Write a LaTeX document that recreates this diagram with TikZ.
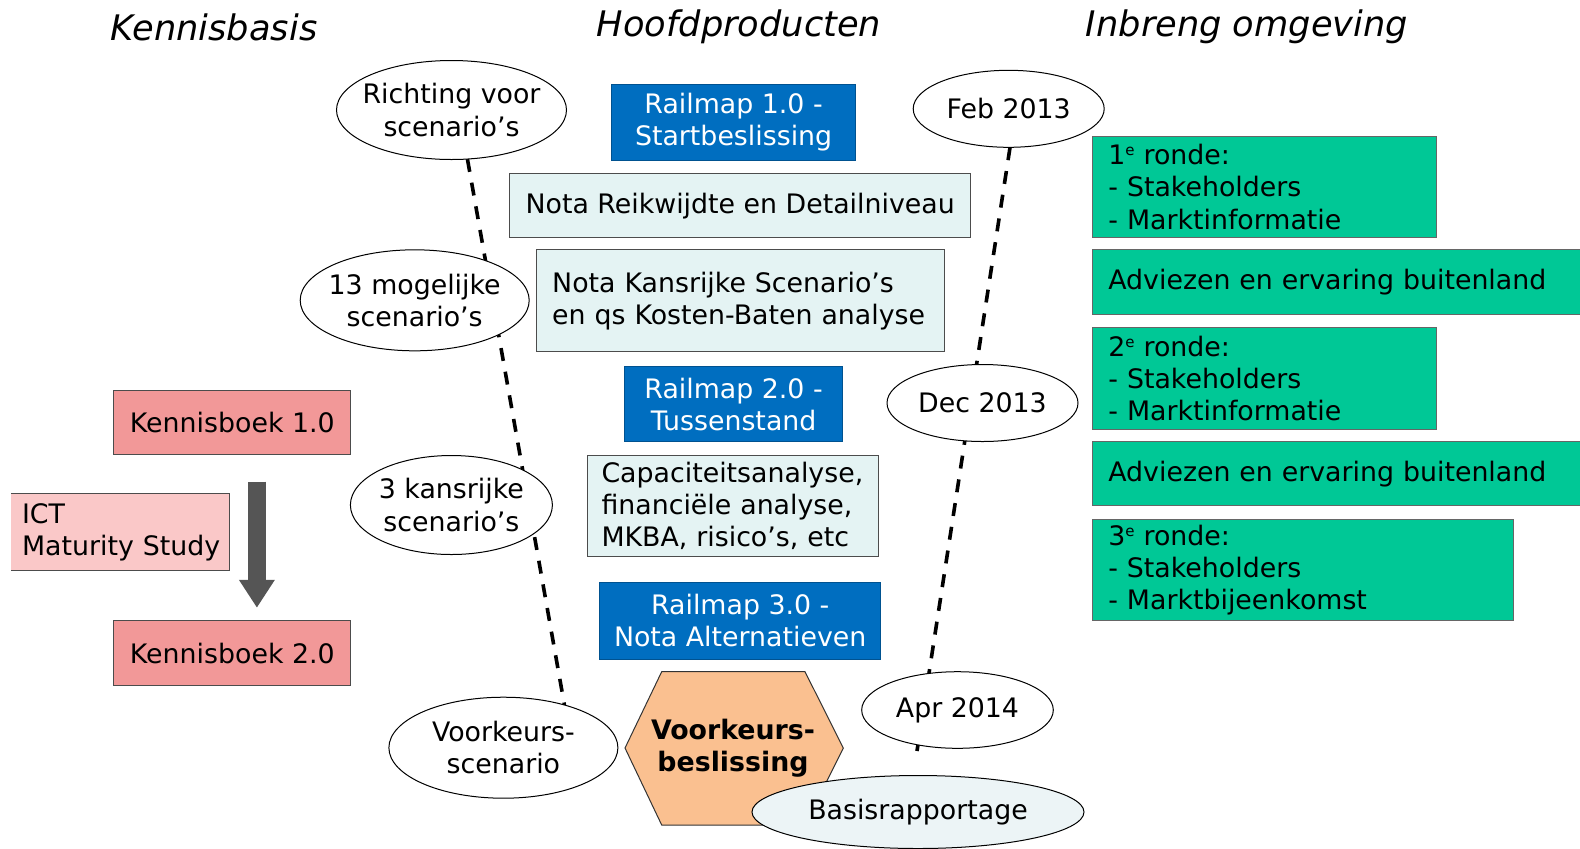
\documentclass[tikz,border=0pt]{standalone}
\usepackage{fontspec}
\setmainfont{DejaVu Sans}[ItalicFont={DejaVu Sans Oblique},BoldFont={DejaVu Sans Bold}]
\usepackage{tikz}
\usetikzlibrary{arrows.meta,shapes.geometric,backgrounds}
\definecolor{railblue}{RGB}{0,110,192}
\definecolor{notacyan}{RGB}{228,243,243}
\definecolor{kbpink}{RGB}{242,152,152}
\definecolor{ictpink}{RGB}{250,200,200}
\definecolor{inbrgreen}{RGB}{0,200,150}
\definecolor{hexorange}{RGB}{250,192,144}
\definecolor{basisfill}{RGB}{236,244,246}
\definecolor{arrowgray}{RGB}{85,85,85}
\newcommand{\rnd}{\raisebox{4.5pt}{\fontsize{7.5}{8}\selectfont e}}% small raised e
\tikzset{
  titel/.style={font=\fontsize{17.6}{21}\selectfont\itshape},       % column heads
  ell/.style={ellipse,draw=black,fill=white,line width=0.5pt,inner xsep=-8pt,inner ysep=-4pt,outer sep=0pt,align=center},
  blok/.style={rectangle,inner sep=0pt,outer sep=0pt,line width=0.5pt},
  rail/.style={blok,fill=railblue,draw=railblue!75!black,text=white,align=center},
  nota/.style={blok,fill=notacyan,draw=black!70},
  kennis/.style={blok,fill=kbpink,draw=black!70},
  ict/.style={blok,fill=ictpink,inner xsep=5.5pt,align=left},
  groen/.style={blok,fill=inbrgreen,draw=black!60,inner xsep=8pt,align=left},
  hexa/.style={draw=black!80,fill=hexorange,line width=0.5pt},
  pijl/.style={draw=arrowgray,line width=9pt,-{Triangle[width=17pt,length=14pt]}},
  tijdlijn/.style={black,line width=1.8pt,dash pattern=on 6.5pt off 5.5pt},
}
\begin{document}
\begin{tikzpicture}[x=0.5pt,y=-0.5pt,every node/.style={font=\fontsize{13.4}{16.1}\selectfont}]
  \useasboundingbox (0,0) rectangle (1580,848);
  % column heads
  \node[titel] (tkennis) at (214,27) {Kennisbasis};
  \node[titel] (thoofd) at (739,27) {Hoofdproducten};
  \node[titel] (tinbreng) at (1247,27) {Inbreng omgeving};

  % kennisbasis
  \node[kennis,minimum width=118.4pt,minimum height=31.75pt] (kb1) at (232.3,422.7) {Kennisboek 1.0};
  \node[kennis,minimum width=118.4pt,minimum height=32.25pt] (kb2) at (232.3,653) {Kennisboek 2.0};
  \node[ict,text width=98.4pt,minimum height=38.3pt] (ict) at (120.4,532.1) {ICT\\Maturity~Study};
  \draw[black!70,line width=0.5pt] (ict.north west) -- (ict.north east) -- (ict.south east) -- (ict.south west);
  \draw[pijl] ([xshift=12.3pt,yshift=-13.6pt]kb1.south) -- ([xshift=12.3pt,yshift=6.5pt]kb2.north);

  % hoofdproducten
  \node[rail,minimum width=121.9pt,minimum height=37.8pt] (rm1) at (733.6,122.4) {Railmap 1.0 -\\Startbeslissing};
  \node[nota,minimum width=230.25pt,minimum height=32.25pt] (nrd) at (740.2,205.6) {Nota Reikwijdte en Detailniveau};
  \node[nota,text width=188pt,inner xsep=8pt,minimum height=50.9pt,align=left] (nks) at (740.2,300.8) {Nota Kansrijke Scenario’s\\en qs Kosten-Baten analyse};
  \node[rail,minimum width=108.8pt,minimum height=37.3pt] (rm2) at (733.6,404.1) {Railmap 2.0 -\\Tussenstand};
  \node[nota,text width=131.6pt,inner xsep=7pt,minimum height=50.4pt,align=left] (cap) at (733.1,505.9) {Capaciteitsanalyse,\\financiële analyse,\\MKBA, risico’s, etc};
  \node[rail,minimum width=140.5pt,minimum height=38.3pt] (rm3) at (740.2,620.7) {Railmap 3.0 -\\Nota Alternatieven};
  \draw[hexa] (625,748) -- (661.7,671.7) -- (805,671.7) -- (843.3,748) -- (805,825) -- (661.7,825) -- cycle;
  \node[font=\fontsize{13.4}{16.1}\selectfont\bfseries,align=center] (vbesl) at (733,748.3) {Voorkeurs-\\beslissing};

  % inbreng omgeving
  \node[groen,text width=155.8pt,minimum height=50.9pt] (r1) at (1264.2,186.9) {1\rnd{} ronde:\\- Stakeholders\\- Marktinformatie};
  \node[groen,text width=237.85pt,minimum height=32.25pt] (adv1) at (1346.15,282.2) {Adviezen en ervaring buitenland};
  \node[groen,text width=155.8pt,minimum height=50.9pt] (r2) at (1264.2,378.4) {2\rnd{} ronde:\\- Stakeholders\\- Marktinformatie};
  \node[groen,text width=237.85pt,minimum height=32.25pt] (adv2) at (1346.15,473.6) {Adviezen en ervaring buitenland};
  \node[groen,text width=194.65pt,minimum height=50.9pt] (r3) at (1303,569.9) {3\rnd{} ronde:\\- Stakeholders\\- Marktbijeenkomst};

  % scenario's and dates
  \node[ell,minimum width=115pt,minimum height=49.5pt] (richting) at (451.5,110) {Richting voor\\scenario’s};
  \node[ell,minimum width=114.5pt,minimum height=50.5pt] (mogelijk) at (414.7,300.3) {13 mogelijke\\scenario’s};
  \node[ell,minimum width=101pt,minimum height=49.5pt] (kansrijk) at (451.4,505) {3 kansrijke\\scenario’s};
  \node[ell,minimum width=114.5pt,minimum height=50.5pt] (voorkeur) at (503.4,747.7) {Voorkeurs-\\scenario};
  \node[ell,minimum width=95.5pt,minimum height=38.5pt] (feb) at (1008.7,108.8) {Feb 2013};
  \node[ell,minimum width=95.5pt,minimum height=38.5pt] (dec) at (982.5,403) {Dec 2013};
  \node[ell,minimum width=95.8pt,minimum height=38.3pt] (apr) at (957.5,710) {Apr 2014};
  \node[ell,fill=basisfill,minimum width=166pt,minimum height=36.5pt] (basis) at (918,812) {Basisrapportage};
  \coordinate (aprend) at (917,751);

  % time lines behind the ellipses
  \begin{pgfonlayer}{background}
    \draw[tijdlijn] (richting.-72) -- (voorkeur.35);
    \draw[tijdlijn] (feb.-88) -- (aprend);
  \end{pgfonlayer}
\end{tikzpicture}
\end{document}
